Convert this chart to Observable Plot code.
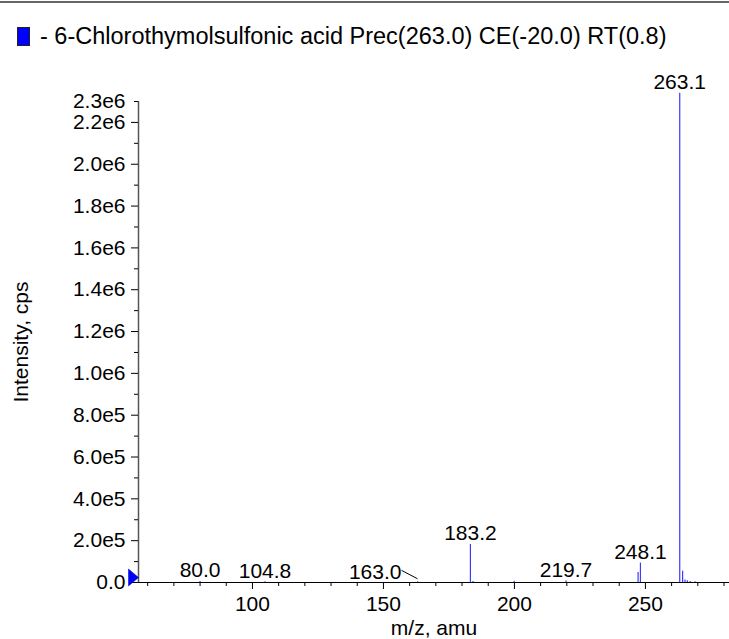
<!DOCTYPE html>
<html>
<head>
<meta charset="utf-8">
<script src="https://cdn.jsdelivr.net/npm/d3@7"></script>
<script src="https://cdn.jsdelivr.net/npm/@observablehq/plot@0.6"></script>
<style>
  html, body { margin: 0; padding: 0; background: #fff; }
  #wrap { position: relative; width: 729px; height: 639px; overflow: hidden; font-family: "Liberation Sans", Arial, Helvetica, sans-serif; }
  #topline { position: absolute; left: 0; top: 1px; width: 729px; height: 0; border-top: 2px solid #666; }
  #legend { position: absolute; left: 17px; top: 23px; height: 26px; display: flex; align-items: center; font-size: 23.5px; color: #000; white-space: nowrap; }
  #swatch { width: 11px; height: 17px; background: #0000ff; border: 1px solid #222; margin-right: 10px; }
  #chart { position: absolute; left: 0; top: 0; }
</style>
</head>
<body>
<div id="wrap">
  <div id="topline"></div>
  <div id="legend"><span id="swatch"></span><span id="legendText"></span></div>
  <div id="chart"></div>
</div>
<script>
// ---- data ----
const title = "- 6-Chlorothymolsulfonic acid Prec(263.0) CE(-20.0) RT(0.8)";
const mz        = [80.0, 104.8, 163.0, 183.2, 184.2, 199.9, 219.7, 247.2, 248.1, 263.1, 264.2, 265.1, 266.0, 267.1, 269.0];
const intensity = [5000, 4000, 3000, 182000, 5000, 6000, 7000, 48000, 93000, 2340000, 54000, 12000, 8000, 5000, 4000];
const labelMz   = [80.0, 104.8, 163.0, 183.2, 219.7, 248.1, 263.1];
const labelText = ["80.0", "104.8", "163.0", "183.2", "219.7", "248.1", "263.1"];
const labelShift = [0, 0, -16, 0, 0, 0, 0];            // pixel offset of the label (163.0 is moved left with a leader)
const leaderFrom = [{mz: 156.9, y: 58000}];            // leader start (label end) for the 163.0 label
const leaderTo   = [{mz: 163.0, y: 18000}];
const xDomain = [56.5, 282.1];
const yDomain = [0, 2.3e6];
const xMajor = [100, 150, 200, 250];
const xMinor = [60, 70, 80, 90, 110, 120, 130, 140, 160, 170, 180, 190, 210, 220, 230, 240, 260, 270, 280];
const yMajor = [0, 2e5, 4e5, 6e5, 8e5, 1.0e6, 1.2e6, 1.4e6, 1.6e6, 1.8e6, 2.0e6, 2.2e6];
const yMajorLabels = ["0.0", "2.0e5", "4.0e5", "6.0e5", "8.0e5", "1.0e6", "1.2e6", "1.4e6", "1.6e6", "1.8e6", "2.0e6", "2.2e6"];
const yTop = [2.3e6];
const yTopLabel = ["2.3e6"];
const yMinor = [1e5, 3e5, 5e5, 7e5, 9e5, 1.1e6, 1.3e6, 1.5e6, 1.7e6, 1.9e6, 2.1e6];
const xLabel = "m/z, amu";
const yLabel = "Intensity, cps";

document.getElementById("legendText").textContent = title;

const peaks = mz.map((m, i) => ({mz: m, int: intensity[i]}));
const labels = labelMz.map((m, i) => ({
  mz: m,
  int: intensity[mz.indexOf(m)],
  text: labelText[i],
  shift: labelShift[i]
}));
const leaders = leaderFrom.map((f, i) => ({x1: f.mz, y1: f.y, x2: leaderTo[i].mz, y2: leaderTo[i].y}));

const markerSymbol = {
  draw(ctx) {
    ctx.moveTo(-10, -8.5);
    ctx.lineTo(0, 0);
    ctx.lineTo(-10, 8.5);
    ctx.closePath();
  }
};

const plot = Plot.plot({
  width: 729,
  height: 639,
  marginTop: 101,
  marginLeft: 138,
  marginRight: 0,
  marginBottom: 57,
  style: {fontFamily: "Liberation Sans, Arial, Helvetica, sans-serif", fontSize: "21px", background: "transparent", color: "#000"},
  x: {domain: xDomain},
  y: {domain: yDomain},
  marks: [
    Plot.ruleY([yDomain[0]], {stroke: "#000", strokeWidth: 1.2}),
    Plot.ruleX([xDomain[0]], {stroke: "#555", strokeWidth: 1.5}),
    Plot.ruleX(peaks, {x: "mz", y1: 0, y2: "int", stroke: "#3b3bff", strokeWidth: 1.2}),
    Plot.axisY(yMajor, {tickSize: 7, tickPadding: 6, tickFormat: d => yMajorLabels[yMajor.indexOf(d)], label: null}),
    Plot.axisY(yTop, {tickSize: 4, tickPadding: 9, tickFormat: d => yTopLabel[yTop.indexOf(d)], label: null}),
    Plot.axisY(yMinor, {tickSize: 4, tickFormat: () => "", label: null}),
    Plot.axisX(xMajor, {tickSize: 7, tickPadding: 7, tickFormat: d => String(d), label: null}),
    Plot.axisX(xMinor, {tickSize: 4, tickFormat: () => "", label: null}),
    Plot.text(labels.filter(d => d.shift === 0), {x: "mz", y: "int", text: "text", dy: -4, lineAnchor: "bottom", textAnchor: "middle"}),
    Plot.text(labels.filter(d => d.shift !== 0), {x: "mz", y: 0, text: "text", dx: -16, dy: -4, lineAnchor: "bottom", textAnchor: "end"}),
    Plot.link(leaders, {x1: "x1", y1: "y1", x2: "x2", y2: "y2", stroke: "#000", strokeWidth: 1}),
    Plot.dot([{x: xDomain[0], y: 0}], {x: "x", y: "y", symbol: markerSymbol, fill: "#0000ff", stroke: "#0000aa", strokeWidth: 0.5, dy: -5}),
    Plot.text([xLabel], {frameAnchor: "bottom", text: d => d, dy: 46, lineAnchor: "middle", textAnchor: "middle"}),
    Plot.text([yLabel], {frameAnchor: "left", text: d => d, dx: -117, rotate: -90, lineAnchor: "middle", textAnchor: "middle"})
  ]
});
document.getElementById("chart").appendChild(plot);
</script>
</body>
</html>
